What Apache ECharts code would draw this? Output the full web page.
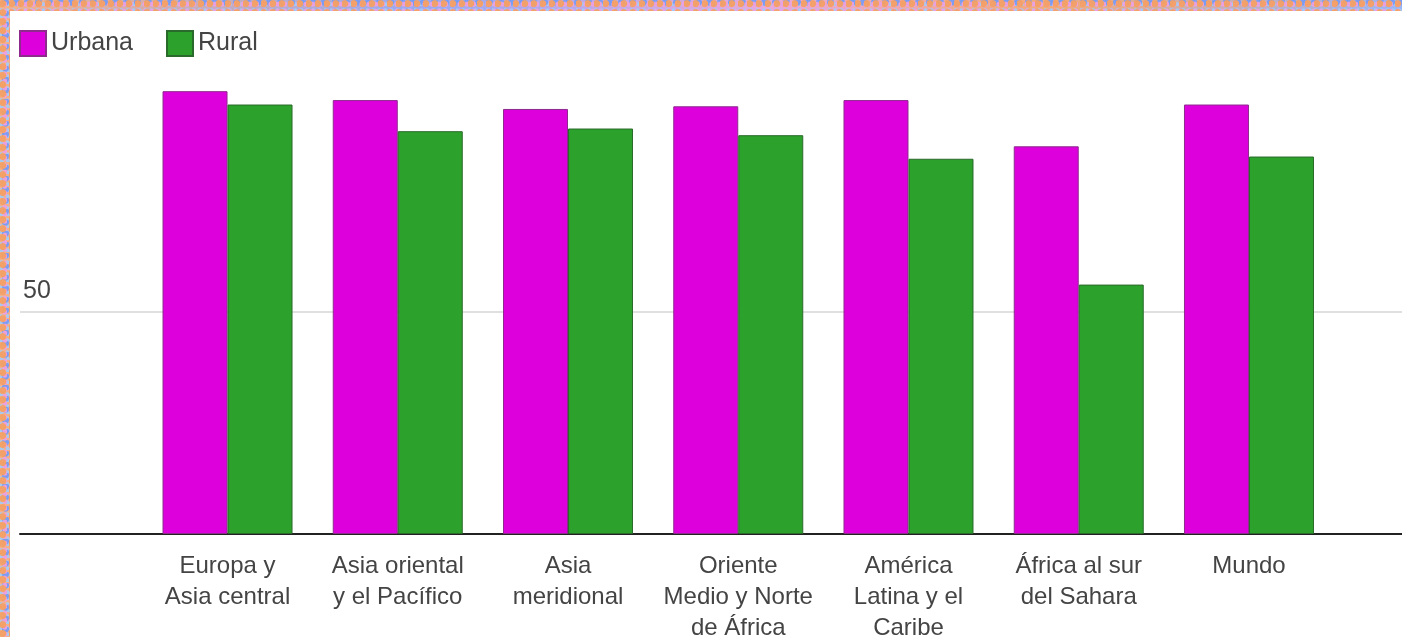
<!DOCTYPE html>
<html>
<head>
<meta charset="utf-8">
<script src="https://cdn.jsdelivr.net/npm/echarts@6/dist/echarts.min.js"></script>
<style>
  html, body { margin: 0; padding: 0; width: 1402px; height: 637px; overflow: hidden; }
  body {
    background-color: #a9a6f0;
    background-image:
      radial-gradient(circle at 30% 40%, rgba(245,160,100,0.95) 0 3px, transparent 4px),
      radial-gradient(circle at 70% 60%, rgba(235,160,225,0.95) 0 2px, transparent 3px),
      radial-gradient(circle at 50% 20%, rgba(120,155,245,0.95) 0 3px, transparent 4px),
      radial-gradient(circle at 20% 80%, rgba(160,205,250,0.9) 0 2px, transparent 3px),
      linear-gradient(90deg, #f3b08a 0%, #9aa8f2 30%, #e8a8d8 55%, #f2a97a 75%, #9cb4f5 100%);
    background-size: 9px 9px, 7px 7px, 11px 11px, 6px 6px, 100% 100%;
  }
  #paper { position: absolute; left: 10px; top: 11px; right: 0; bottom: 0; background: #ffffff; }
  #chart { position: absolute; left: 0; top: 0; width: 1402px; height: 637px; }
</style>
</head>
<body>
<div id="paper"></div>
<div id="chart"></div>
<script>
var categories = [
  'Europa y\nAsia central',
  'Asia oriental\ny el Pacífico',
  'Asia\nmeridional',
  'Oriente\nMedio y Norte\nde África',
  'América\nLatina y el\nCaribe',
  'África al sur\ndel Sahara',
  'Mundo'
];
var urbana = [99.6, 97.6, 95.6, 96.2, 97.6, 87.2, 96.6];
var rural  = [96.6, 90.6, 91.2, 89.7, 84.4, 56.1, 84.9];
var yTickLabels = ['50'];

var chart = echarts.init(document.getElementById('chart'), null, { renderer: 'canvas' });
var font = '"Liberation Sans", Arial, sans-serif';

chart.setOption({
  backgroundColor: 'transparent',
  animation: false,
  textStyle: { fontFamily: font },
  legend: {
    left: 19, top: 30, padding: 0,
    itemWidth: 26, itemHeight: 25, itemGap: 33,
    icon: 'rect',
    textStyle: { fontSize: 25, color: '#444', fontFamily: font },
    data: ['Urbana', 'Rural']
  },
  grid: [
    { left: 20, right: 0, top: 89.4, bottom: 103, containLabel: false, outerBoundsMode: 'none' },
    { left: 142.4, right: 67.9, top: 89.4, bottom: 103, containLabel: false, outerBoundsMode: 'none' }
  ],
  xAxis: [
    {
      gridIndex: 0, type: 'value', min: 0, max: 1,
      axisLine: { show: true, lineStyle: { color: '#222', width: 2 } },
      axisTick: { show: false }, axisLabel: { show: false }, splitLine: { show: false }
    },
    {
      gridIndex: 1, type: 'category', data: categories,
      axisLine: { show: false }, axisTick: { show: false },
      axisLabel: {
        show: true, interval: 0, margin: 17,
        fontSize: 24, lineHeight: 31, color: '#444', fontFamily: font, align: 'center'
      },
      splitLine: { show: false }
    }
  ],
  yAxis: [
    {
      gridIndex: 0, type: 'value', min: 0, max: 100, interval: 50,
      axisLine: { show: false }, axisTick: { show: false },
      axisLabel: {
        inside: true, margin: 3, align: 'left', verticalAlign: 'bottom',
        padding: [0, 0, 8, 0],
        fontSize: 25, color: '#444', fontFamily: font,
        formatter: function (v) { return yTickLabels.indexOf(String(v)) >= 0 ? String(v) : ''; }
      },
      splitLine: { show: true, lineStyle: { color: ['transparent', '#e0e0e0', 'transparent'], width: 2 } }
    },
    {
      gridIndex: 1, type: 'value', min: 0, max: 100, interval: 50,
      show: false
    }
  ],
  series: [
    {
      name: 'Urbana', type: 'bar', xAxisIndex: 1, yAxisIndex: 1,
      data: urbana, barWidth: 65, barGap: '0%',
      itemStyle: { color: '#dd00dd', borderColor: '#8e2a8e', borderWidth: 1 }
    },
    {
      name: 'Rural', type: 'bar', xAxisIndex: 1, yAxisIndex: 1,
      data: rural, barWidth: 65, barGap: '0%',
      itemStyle: { color: '#2ca22c', borderColor: '#2a6a2a', borderWidth: 1 }
    }
  ]
});
</script>
</body>
</html>
